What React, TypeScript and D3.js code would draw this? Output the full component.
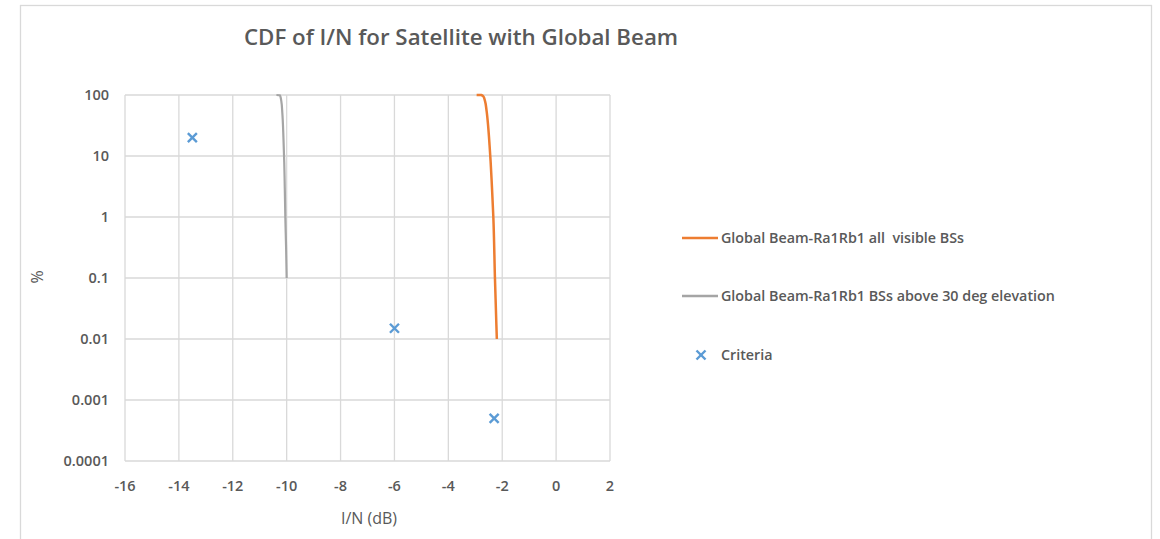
import React from "react";
import * as d3 from "d3";

const W = 1160;
const H = 539;

const xTicks = [-16, -14, -12, -10, -8, -6, -4, -2, 0, 2];
const yTicks = [100, 10, 1, 0.1, 0.01, 0.001, 0.0001];
const yTickLabels = ["100", "10", "1", "0.1", "0.01", "0.001", "0.0001"];

const orangeX = [-2.95, -2.78, -2.7, -2.64, -2.58, -2.52, -2.47, -2.43, -2.38, -2.33, -2.27, -2.2];
const orangeY = [100, 99.8, 95, 80, 55, 30, 15, 8, 3, 1, 0.1, 0.01];

const grayX = [-10.38, -10.25, -10.2, -10.16, -10.12, -10.09, -10.07, -10.05, -10.02, -10.0];
const grayY = [100, 99.5, 80, 50, 20, 8, 3, 1, 0.3, 0.1];

const critX = [-13.5, -6, -2.3];
const critY = [20, 0.015, 0.0005];

const legendLabels = [
  "Global Beam-Ra1Rb1 all  visible BSs",
  "Global Beam-Ra1Rb1 BSs above 30 deg elevation",
  "Criteria",
];

const COL_ORANGE = "#ED7D31";
const COL_GRAY = "#A5A5A5";
const COL_BLUE = "#5B9BD5";
const TXT = "#595959";
const GRID = "#D9D9D9";
const FONT = "'Open Sans', 'Noto Sans', sans-serif";

export default function App() {
  const left = 125, right = 610, top = 95, bottom = 461;
  const x = d3.scaleLinear().domain([-16, 2]).range([left, right]);
  const y = d3.scaleLog().domain([0.0001, 100]).range([bottom, top]);

  const line = d3
    .line<[number, number]>()
    .x((d) => x(d[0]))
    .y((d) => y(d[1]))
    .curve(d3.curveMonotoneY);

  const orange: [number, number][] = orangeX.map((v, i) => [v, orangeY[i]]);
  const gray: [number, number][] = grayX.map((v, i) => [v, grayY[i]]);

  const cross = (cx: number, cy: number, s: number, key: string) => (
    <g key={key} stroke={COL_BLUE} strokeWidth={2.4}>
      <line x1={cx - s} y1={cy - s} x2={cx + s} y2={cy + s} />
      <line x1={cx - s} y1={cy + s} x2={cx + s} y2={cy - s} />
    </g>
  );

  return (
    <svg
      width={W}
      height={H}
      style={{ position: "absolute", left: 0, top: 0, background: "#fff" }}
      fontFamily={FONT}
    >
      <rect x={20.5} y={5.5} width={1131} height={560} fill="#fff" stroke={GRID} strokeWidth={1.3} />
      <text x={461} y={45} textAnchor="middle" fontSize={22.3} fontWeight={600} fill={TXT}>
        CDF of I/N for Satellite with Global Beam
      </text>

      {xTicks.map((t) => (
        <line key={"gx" + t} x1={x(t)} x2={x(t)} y1={top} y2={bottom} stroke={GRID} strokeWidth={1.3} />
      ))}
      {yTicks.map((t) => (
        <line key={"gy" + t} x1={left} x2={right} y1={y(t)} y2={y(t)} stroke={GRID} strokeWidth={1.3} />
      ))}

      {xTicks.map((t) => (
        <text key={"xt" + t} x={x(t)} y={491} textAnchor="middle" fontSize={14.5} fontWeight={600} fill={TXT}>
          {t}
        </text>
      ))}
      {yTicks.map((t, i) => (
        <text key={"yt" + t} x={109} y={y(t) + 5} textAnchor="end" fontSize={14.5} fontWeight={600} fill={TXT}>
          {yTickLabels[i]}
        </text>
      ))}

      <text x={369} y={524} textAnchor="middle" fontSize={16} fill={TXT}>
        I/N (dB)
      </text>
      <text transform="translate(43,277) rotate(-90)" textAnchor="middle" fontSize={16} fill={TXT}>
        %
      </text>

      <path d={line(gray) || ""} fill="none" stroke={COL_GRAY} strokeWidth={2.2} />
      <path d={line(orange) || ""} fill="none" stroke={COL_ORANGE} strokeWidth={2.5} />

      {critX.map((v, i) => cross(x(v), y(critY[i]), 4.5, "c" + i))}

      <line x1={682} x2={718} y1={238} y2={238} stroke={COL_ORANGE} strokeWidth={2.5} />
      <text x={721} y={243} fontSize={14.3} fontWeight={600} fill={TXT} style={{ whiteSpace: "pre" }}>
        {legendLabels[0]}
      </text>
      <line x1={682} x2={718} y1={296} y2={296} stroke={COL_GRAY} strokeWidth={2.5} />
      <text x={721} y={301} fontSize={14.3} fontWeight={600} fill={TXT}>
        {legendLabels[1]}
      </text>
      {cross(701, 355, 4.5, "lc")}
      <text x={721} y={360} fontSize={14.3} fontWeight={600} fill={TXT}>
        {legendLabels[2]}
      </text>
    </svg>
  );
}
